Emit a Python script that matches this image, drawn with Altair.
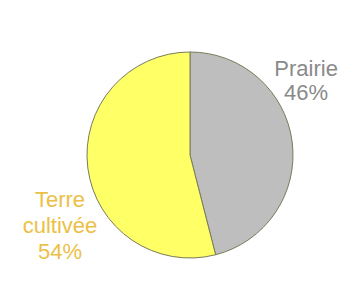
import altair as alt
import pandas as pd

categories = ["Prairie", "Terre cultivée"]
values = [46, 54]
labels = ["Prairie\n46%", "Terre\ncultivée\n54%"]
order = [1, 2]
fill_colors = ["#BEBEBE", "#FFFF66"]
text_colors = ["#8A8A8A", "#ECC046"]

df = pd.DataFrame({"cat": categories, "val": values, "label": labels, "ord": order})

color_scale = alt.Scale(domain=categories, range=fill_colors)

pie = alt.Chart(df).mark_arc(outerRadius=103, stroke="#7A7A5A", strokeWidth=1).encode(
    theta=alt.Theta("val:Q", stack=True),
    order=alt.Order("ord:Q"),
    color=alt.Color("cat:N", scale=color_scale, legend=None),
)

text_base = alt.Chart(df).transform_window(
    cum="sum(val)", sort=[alt.SortField("ord")]
).transform_calculate(
    mid="datum.cum - datum.val / 2"
)

def label_layer(cat, radius, dx, dy, lh, color):
    return text_base.transform_filter(alt.datum.cat == cat).mark_text(
        radius=radius, dx=dx, dy=dy, font="Liberation Sans", fontSize=22,
        lineHeight=lh, align="center", baseline="alphabetic", color=color,
        lineBreak="\n",
    ).encode(
        theta=alt.Theta("mid:Q", scale=alt.Scale(domain=[0, 100]), stack=None),
        text="label:N",
    )

t1 = label_layer("Prairie", 116, 1, -64, 24, text_colors[0])
t2 = label_layer("Terre cultivée", 131, 0, 36, 26, text_colors[1])

chart = alt.layer(pie, t1, t2).resolve_scale(theta="independent").properties(
    width=290, height=250,
    padding={"left": 37, "top": 22, "right": 4, "bottom": 0},
    autosize=alt.AutoSizeParams(type="none"),
    background="#FFFFFF",
).configure_view(stroke=None)

chart.save("out.html", embed_options={"renderer": "svg", "actions": False})
